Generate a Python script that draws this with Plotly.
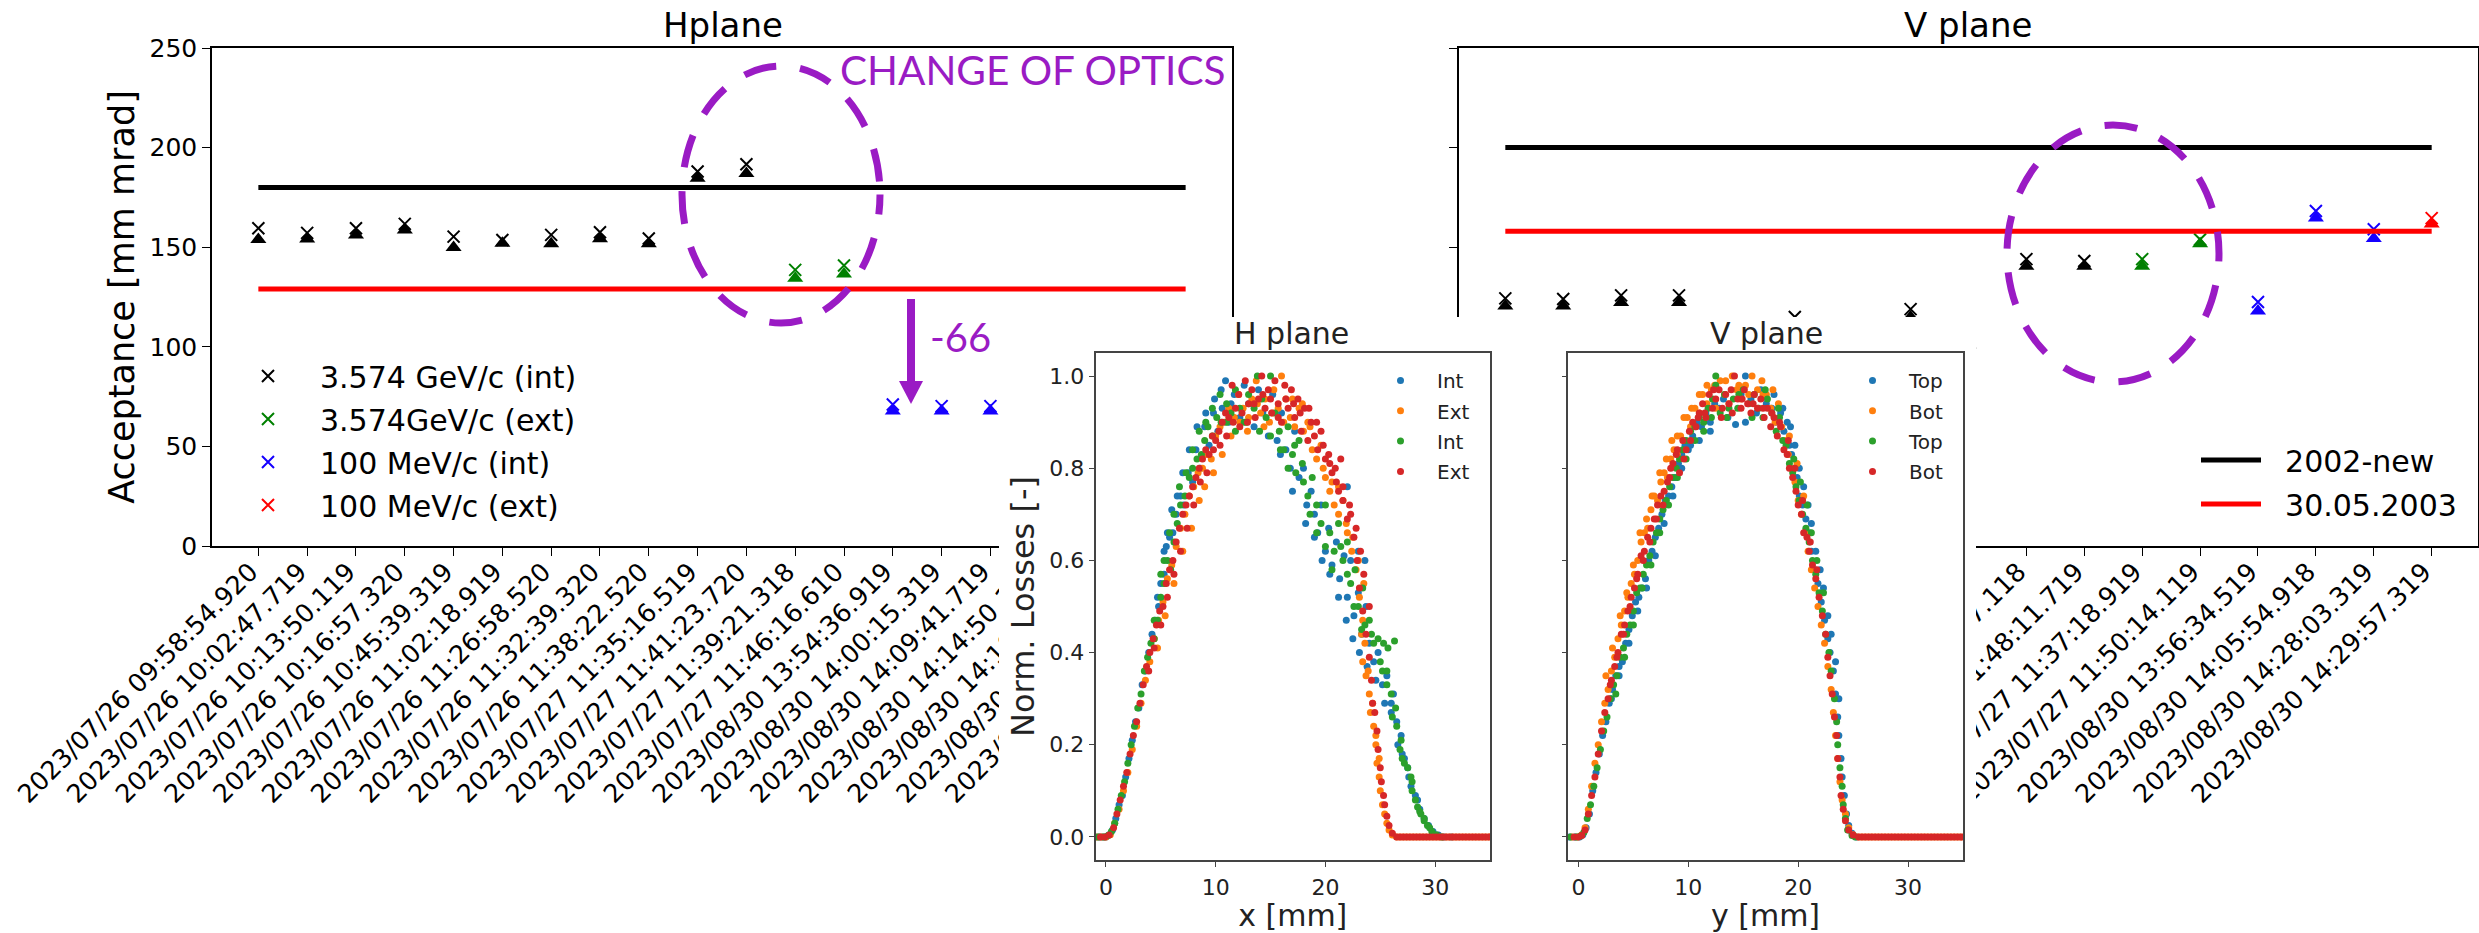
import plotly.graph_objects as go

W, H = 2479, 933
PURPLE = "#9a1bc4"
FONT = "DejaVu Sans"

# ---------- main panels: x categories ----------
H_LABELS = ["2023/07/26 09:58:54.920", "2023/07/26 10:02:47.719", "2023/07/26 10:13:50.119",
            "2023/07/26 10:16:57.320", "2023/07/26 10:45:39.319", "2023/07/26 11:02:18.919",
            "2023/07/26 11:26:58.520", "2023/07/26 11:32:39.320", "2023/07/26 11:38:22.520",
            "2023/07/27 11:35:16.519", "2023/07/27 11:41:23.720", "2023/07/27 11:39:21.318",
            "2023/07/27 11:46:16.610", "2023/08/30 13:54:36.919", "2023/08/30 14:00:15.319",
            "2023/08/30 14:09:41.719", "2023/08/30 14:14:50.119", "2023/08/30 14:19:02.919",
            "2023/08/30 14:22:11.520", "2023/08/30 14:26:37.719"]
V_LABELS = ["2023/07/26 10:05:12.519", "2023/07/26 10:21:33.118", "2023/07/26 10:49:05.720",
            "2023/07/26 11:06:44.319", "2023/07/26 11:20:17.919", "2023/07/26 11:29:51.120",
            "2023/07/26 11:35:26.719", "2023/07/26 11:43:08.320", "2023/07/27 11:30:42.519",
            "2023/07/27 11:44:37.118", "2023/07/27 11:48:11.719", "2023/07/27 11:37:18.919",
            "2023/07/27 11:50:14.119", "2023/08/30 13:56:34.519", "2023/08/30 14:05:54.918",
            "2023/08/30 14:28:03.319", "2023/08/30 14:29:57.319"]

# ---------- main panels: acceptance values (x marks, and the triangle below each) ----------
H_GEV_INT_IDX = [0, 1, 2, 3, 4, 5, 6, 7, 8, 9, 10]
H_GEV_INT_X = [159.5, 157.2, 159.5, 161.7, 155.3, 153.6, 156.2, 157.5, 154.4, 188.0, 191.6]
H_GEV_INT_T = [153.9, 154.1, 156.1, 158.6, 149.9, 152.0, 151.7, 154.2, 151.7, 184.6, 187.0]
H_GEV_EXT_IDX = [11, 12]
H_GEV_EXT_X = [138.6, 140.8]
H_GEV_EXT_T = [134.4, 136.6]
H_MEV_INT_IDX = [13, 14, 15, 16, 17]
H_MEV_INT_X = [71.0, 70.2, 70.2, 70.0, 70.0]
H_MEV_INT_T = [67.8, 67.8, 67.8, 67.5, 67.5]
H_MEV_EXT_IDX = [18, 19]
H_MEV_EXT_X = [70.0, 70.0]
H_MEV_EXT_T = [67.5, 67.5]

V_GEV_INT_IDX = [0, 1, 2, 3, 4, 5, 6, 7, 8, 9, 10]
V_GEV_INT_X = [124.3, 124.0, 125.8, 125.8, 105.0, 115.0, 105.0, 118.9, 105.0, 144.0, 143.1]
V_GEV_INT_T = [120.5, 120.5, 122.2, 122.2, 101.0, 111.0, 101.0, 115.0, 101.0, 140.4, 140.4]
V_GEV_EXT_IDX = [11, 12]
V_GEV_EXT_X = [144.0, 153.9]
V_GEV_EXT_T = [140.4, 151.7]
V_MEV_INT_IDX = [13, 14, 15]
V_MEV_INT_X = [122.5, 168.2, 159.0]
V_MEV_INT_T = [118.0, 164.6, 154.4]
V_MEV_EXT_IDX = [16]
V_MEV_EXT_X = [164.6]
V_MEV_EXT_T = [161.7]

H_REF_2002 = [180, 180]
H_REF_2003 = [129, 129]
V_REF_2002 = [200, 200]
V_REF_2003 = [158, 158]

# ---------- inset panels: (position, normalised losses) ----------
H_INT_A = [(-.9,0),(-.6,0),(-.3,0),(0,0),(.3,.005),(.6,.015),(.9,.04),(1.2,.07),(1.5,.09),(1.8,.13),(2.1,.17),(2.4,.21),(2.7,.25),(3,.28),(3.3,.33),(3.6,.36),(3.9,.4),(4.2,.44),(4.5,.47),(4.8,.5),(5,.55),(5.3,.57),(5.5,.63),(5.8,.65),(6.1,.66),(6.4,.7),(6.8,.74),(7.1,.72),(7.5,.79),(7.9,.77),(8.2,.84),(8.6,.8),(9,.89),(9.4,.85),(9.8,.92),(10.2,.88),(10.6,.93),(10.9,.99),(11.2,.9),(11.7,.96),(12.2,.91),(12.6,.98),(13,.94),(13.5,.89),(13.9,.97),(14.3,.92),(14.8,.87),(15.2,.96),(15.6,.86),(16,.92),(16.4,.84),(16.8,.8),(17.2,.88),(17.6,.78),(18,.8),(18.3,.72),(18.7,.75),(19,.7),(19.3,.66),(19.6,.72),(20,.62),(20.3,.67),(20.6,.59),(21,.64),(21.3,.56),(21.7,.61),(22,.52),(22.3,.6),(22.6,.48),(23,.53),(23.3,.44),(23.7,.5),(24,.42),(24.4,.38),(24.8,.4),(25.2,.33),(25.6,.35),(26,.29),(26.2,.31),(26.5,.25),(26.9,.22),(27.2,.17),(27.5,.15),(27.8,.11),(28.2,.09),(28.6,.06),(29,.04),(29.4,.025),(29.8,.012),(30.3,.004),(30.8,0),(31.5,0),
           (4.7,.52),(5.3,.62),(5.6,.66),(6,.71),(6.5,.74),(7,.79),(7.6,.84),(8.3,.89),(9.1,.92),(9.9,.95),(10.5,.97),(11.4,.94),(15.9,.83),(17,.75),(18.2,.68),(19,.65),(19.7,.6),(20.4,.57),(21.2,.52),(21.9,.47),(22.5,.43),(23.1,.4),(23.8,.37),(24.6,.34),(25.4,.29),(26,.27),(26.6,.2),(27,.18),(27.6,.13),(28.4,.08),(22,.76),(23,.62),(23.6,.6)]
H_EXT_A = [(-.8,0),(-.4,0),(0,0),(.4,.005),(.8,.03),(1.2,.06),(1.6,.1),(2,.14),(2.4,.19),(2.8,.24),(3.2,.29),(3.6,.34),(4,.38),(4.4,.43),(4.8,.47),(5.2,.51),(5.6,.56),(6,.59),(6.4,.63),(6.8,.67),(7.2,.7),(7.6,.74),(8,.76),(8.4,.79),(8.8,.8),(9.2,.83),(9.6,.82),(10,.87),(10.4,.89),(10.8,.9),(11.2,.93),(11.7,.91),(12.1,.96),(12.5,.93),(12.9,.88),(13.3,.95),(13.7,.99),(14.1,.92),(14.5,.95),(14.9,.9),(15.3,.97),(15.7,.93),(16,1.0),(16.4,.95),(16.8,.91),(17.2,.89),(17.6,.93),(18,.88),(18.4,.9),(18.8,.84),(19.2,.82),(19.6,.85),(20,.78),(20.4,.75),(20.8,.72),(21.2,.7),(21.6,.73),(22,.66),(22.4,.62),(22.8,.58),(23.1,.52),(23.4,.47),(23.6,.42),(23.4,.38),(23.7,.35),(24,.31),(24.1,.27),(24.4,.24),(24.6,.2),(24.7,.16),(24.9,.13),(25,.1),(25.2,.07),(25.4,.05),(25.6,.03),(25.8,.015),(26.1,.004),(26.5,0),
           (4.7,.41),(5.4,.48),(6.2,.55),(7,.62),(7.8,.67),(8.5,.73),(9,.76),(9.8,.79),(10.6,.83),(11.4,.87),(12.2,.9),(13,.91),(13.8,.94),(14.4,.89),(15.2,.92),(16.2,.9),(17,.95),(17.9,.94),(18.6,.89),(19.8,.8),(20.6,.77),(21.2,.76),(21.9,.68),(22.5,.65),(23,.6),(23.5,.55),(23.3,.44),(23.9,.36),(24.3,.29),(24.6,.22),(24.9,.17)]
H_INT_B = [(-.7,0),(-.2,0),(.2,.003),(.5,.012),(.8,.03),(1.1,.06),(1.4,.09),(1.7,.12),(2,.16),(2.3,.2),(2.6,.24),(2.9,.28),(3.2,.31),(3.5,.36),(3.8,.39),(4.1,.42),(4.4,.43),(4.7,.47),(5,.52),(5.3,.55),(5.6,.6),(5.9,.58),(6.2,.64),(6.5,.68),(6.8,.72),(7.2,.74),(7.6,.78),(7.9,.8),(8.3,.82),(8.7,.83),(9,.86),(9.3,.89),(9.7,.87),(10.1,.91),(10.5,.9),(11,.94),(11.4,.92),(11.8,.97),(12.2,.93),(12.6,.9),(13,.96),(13.5,.93),(13.8,1.0),(14.2,.95),(14.6,.91),(15,1.0),(15.4,.92),(15.8,.88),(16.2,.84),(16.6,.89),(17,.83),(17.3,.79),(17.6,.86),(18,.77),(18.4,.74),(18.8,.78),(19.2,.72),(19.6,.68),(20,.72),(20.4,.66),(20.8,.62),(21.2,.68),(21.6,.6),(22,.64),(22.3,.55),(22.7,.58),(23,.5),(23.4,.54),(23.6,.46),(24,.47),(24.4,.42),(24.8,.43),(25.3,.42),(25.7,.41),(26.3,.425),(25.2,.36),(25.6,.33),(26,.31),(26.4,.28),(26.5,.24),(26.9,.21),(27,.17),(27.5,.15),(27.8,.13),(27.9,.1),(28.2,.08),(28.4,.065),(28.7,.05),(29,.035),(29.3,.025),(29.7,.012),(30.1,.005),(30.6,0),
           (4.4,.47),(5,.57),(5.3,.6),(5.8,.66),(6.2,.7),(6.7,.76),(7.3,.79),(7.9,.84),(8.5,.88),(9.1,.9),(9.7,.93),(10.4,.96),(11,.9),(11.8,.88),(12.8,.9),(14,.88),(15,.87),(15.9,.84),(16.6,.8),(17.2,.85),(17.9,.81),(18.6,.7),(19.2,.66),(20,.63),(20.6,.58),(21.4,.63),(22,.57),(22.6,.5),(23.3,.45),(24.2,.44),(25,.38),(25.6,.36),(26.1,.26),(26.8,.19),(27.2,.16),(27.9,.12),(28.6,.055),(29,.04),(29.5,.02)]
H_EXT_B = [(-.5,0),(-.1,0),(.3,.004),(.7,.02),(1,.05),(1.3,.08),(1.6,.11),(1.9,.14),(2.2,.18),(2.5,.22),(2.8,.25),(3.1,.29),(3.4,.33),(3.7,.37),(4,.4),(4.3,.43),(4.6,.46),(4.9,.49),(5.2,.5),(5.5,.55),(5.8,.58),(6.1,.6),(6.4,.64),(6.7,.67),(7,.7),(7.3,.72),(7.6,.74),(7.9,.76),(8.2,.78),(8.5,.8),(8.8,.82),(9.1,.84),(9.4,.83),(9.7,.87),(10,.86),(10.3,.88),(10.6,.9),(10.9,.92),(11.2,.91),(11.5,.98),(11.8,.93),(12.1,.96),(12.4,.92),(12.7,.99),(13,.94),(13.3,.97),(13.6,.91),(13.9,.95),(14.2,1.0),(14.5,.93),(14.8,.97),(15.1,.92),(15.4,.99),(15.7,.94),(16,.9),(16.3,.98),(16.6,.93),(16.9,.97),(17.2,.91),(17.5,.95),(17.8,.88),(18.1,.93),(18.4,.86),(18.7,.9),(19,.87),(19.3,.84),(19.6,.88),(20,.82),(20.3,.83),(20.6,.79),(20.9,.8),(21.4,.82),(21.2,.75),(21.6,.73),(22,.69),(22.3,.7),(22.6,.65),(22.9,.6),(23.1,.54),(23.4,.49),(23.7,.44),(24,.39),(24.2,.34),(24.3,.29),(24.5,.27),(24.7,.23),(24.8,.19),(25,.15),(25.1,.12),(25.3,.09),(25.4,.07),(25.6,.045),(25.8,.025),(26.1,.008),(26.5,0),
           (3.9,.36),(4.4,.41),(5,.46),(5.6,.52),(6.2,.57),(6.8,.62),(7.4,.67),(8,.72),(8.6,.77),(9.2,.79),(9.8,.84),(10.4,.85),(11,.87),(11.6,.9),(12.2,.89),(12.9,.9),(13.5,.94),(14.3,.96),(15,.95),(15.7,.91),(16.4,.95),(17.1,.94),(17.7,.92),(18.5,.93),(19.2,.9),(19.8,.85),(20.4,.81),(21,.77),(21.6,.76),(22.2,.72),(22.8,.67),(23.2,.62),(23.5,.57),(24,.5)]
H_TAIL_X = [26.8,27.1,27.4,27.7,28,28.3,28.6,28.9,29.2,29.5,29.8,30.1,30.4,30.7,31,31.3,31.6,31.9,32.2,32.5,32.8,33.1,33.4,33.7,34,34.3,34.6,34.9,35.2]

V_TOP_A = [(-.8,0),(-.3,0),(.1,0),(.4,.005),(.7,.02),(1,.05),(1.3,.1),(1.6,.14),(1.9,.18),(2.2,.22),(2.5,.25),(2.8,.29),(3.1,.32),(3.4,.35),(3.7,.37),(4,.38),(4.3,.42),(4.6,.45),(4.9,.48),(5.2,.51),(5.5,.52),(5.8,.54),(6.1,.56),(6.4,.6),(6.7,.62),(7,.65),(7.3,.67),(7.6,.7),(7.9,.73),(8.2,.74),(8.5,.76),(8.8,.78),(9.1,.81),(9.4,.83),(9.7,.85),(10,.84),(10.4,.87),(10.8,.9),(11.2,.89),(11.6,.92),(12,.9),(12.4,.94),(12.8,.93),(13.2,.95),(13.6,.91),(14.3,.895),(14.8,.96),(15.2,.9),(15.2,1.0),(15.7,.95),(16.2,.92),(16.6,.97),(17.1,.94),(17.6,.93),(18,.9),(18.4,.92),(18.7,.88),(19,.9),(19.2,.85),(19.4,.83),(19.6,.8),(19.9,.78),(20.1,.74),(20.4,.72),(20.7,.69),(21,.66),(21.2,.62),(21.5,.58),(21.8,.55),(22.1,.51),(22.4,.47),(22.7,.43),(22.9,.4),(23.2,.36),(23.4,.31),(23.6,.26),(23.7,.22),(23.9,.17),(24,.13),(24.2,.09),(24.4,.05),(24.6,.025),(24.9,.008),(25.3,0),
           (17.8,.96),(18.6,.93),(19.3,.89),(19.7,.85),(20.1,.8),(20.5,.76),(20.9,.72),(21.2,.68),(21.6,.62),(22,.58),(22.3,.54),(22.7,.48),(23,.44),(23.4,.38),(23.7,.3),(3,.3),(3.7,.35),(4.6,.42),(5.4,.49),(6.2,.54),(7,.61),(7.8,.68),(8.6,.74),(9.4,.8),(10.2,.85),(11,.86),(12,.88)]
V_BOT_A = [(-.6,0),(-.1,0),(.3,.005),(.6,.02),(.9,.06),(1.2,.11),(1.5,.16),(1.8,.2),(2.1,.25),(2.4,.29),(2.7,.32),(3,.36),(3.3,.39),(3.6,.43),(3.9,.46),(4.2,.49),(4.5,.52),(4.8,.55),(5.1,.57),(5.4,.6),(5.7,.64),(6,.66),(6.3,.67),(6.6,.71),(6.9,.74),(7.2,.73),(7.5,.77),(7.8,.79),(8.1,.78),(8.4,.82),(8.7,.84),(9,.83),(9.3,.87),(9.6,.86),(9.9,.91),(10.2,.89),(10.6,.93),(11,.92),(11.3,.96),(11.7,.94),(12.1,.97),(12.5,.93),(12.9,.99),(13.3,.96),(13.7,.94),(14,1.0),(14.4,.97),(14.8,.95),(15.2,.98),(15.8,1.0),(16.3,.97),(16.7,.99),(17.1,.96),(17.5,.93),(17.9,.9),(18.2,.94),(18.5,.89),(18.8,.86),(19.1,.83),(19.4,.8),(19.7,.77),(20,.73),(20.3,.7),(20.6,.66),(20.9,.62),(21.2,.58),(21.5,.54),(21.8,.5),(22.1,.46),(22.4,.42),(22.7,.37),(23,.32),(23.2,.27),(23.4,.22),(23.6,.17),(23.8,.12),(24,.08),(24.3,.05),(24.6,.02),(25,.005),(25.5,0),
           (2.5,.35),(3.1,.41),(3.8,.48),(4.4,.53),(5,.59),(5.6,.66),(6.2,.69),(6.7,.74),(7.4,.79),(8,.82),(8.5,.86),(9,.87),(9.6,.91),(10.3,.93),(11,.96),(11.7,.98),(12.4,.98),(13.4,.99),(14.6,.98),(15.5,.96),(16.8,.96),(17.7,.97),(19.2,.87),(19.9,.81),(20.5,.74)]
V_TOP_B = [(-.7,0),(-.2,0),(.2,.002),(.5,.01),(.8,.04),(1.1,.07),(1.4,.11),(1.7,.15),(2,.19),(2.3,.23),(2.6,.26),(2.9,.3),(3.2,.33),(3.5,.35),(3.8,.39),(4.1,.41),(4.4,.44),(4.7,.46),(5,.49),(5.3,.53),(5.6,.54),(5.9,.57),(6.2,.59),(6.5,.61),(6.8,.64),(7.1,.66),(7.4,.69),(7.7,.71),(8,.73),(8.3,.76),(8.6,.78),(8.9,.8),(9.2,.82),(9.5,.84),(9.8,.86),(10.2,.88),(10.6,.89),(11,.91),(11.4,.9),(11.8,.93),(12.2,.95),(12.5,1.0),(12.9,.92),(13.3,.96),(13.7,.93),(14.1,.95),(14.5,.93),(15,.97),(15.5,.94),(16,.96),(16.4,.93),(16.8,.91),(17.2,.95),(17.6,.92),(18,.88),(18.3,.91),(18.6,.86),(18.9,.85),(19.2,.81),(19.5,.79),(19.8,.76),(20.1,.73),(20.4,.7),(20.7,.67),(21,.64),(21.3,.6),(21.6,.57),(21.9,.53),(22.2,.49),(22.5,.44),(22.8,.4),(23,.36),(23.3,.3),(23.5,.25),(23.6,.2),(23.8,.15),(24,.11),(24.1,.07),(24.3,.04),(24.5,.015),(24.9,.003),(25.2,0),
           (3.4,.31),(4.2,.39),(5,.46),(5.8,.54),(6.6,.59),(7.4,.66),(8.2,.72),(9,.78),(9.8,.82),(10.6,.86),(11.4,.88),(12.1,.91),(12.5,.98),(13.5,.91),(14.6,.96),(15.8,.91),(17,.97),(18.2,.93),(19.6,.82),(20.2,.77),(20.8,.72),(21.2,.66),(21.7,.6),(22.3,.53)]
V_BOT_B = [(-.4,0),(0,0),(.3,.003),(.6,.015),(.9,.05),(1.2,.09),(1.5,.13),(1.8,.18),(2.1,.23),(2.4,.27),(2.7,.3),(3,.34),(3.3,.37),(3.6,.4),(3.9,.44),(4.2,.46),(4.5,.49),(4.8,.52),(5.1,.54),(5.4,.57),(5.7,.61),(6,.62),(6.3,.65),(6.6,.67),(6.9,.69),(7.2,.72),(7.5,.74),(7.8,.75),(8.1,.77),(8.3,.78),(8.6,.81),(8.9,.83),(9.2,.79),(9.5,.86),(9.8,.84),(10.1,.88),(10.4,.9),(10.7,.89),(11,.92),(11.3,.94),(11.6,.91),(11.9,.96),(12.2,.93),(12.5,.95),(12.8,.97),(13.1,.93),(13.4,.96),(13.7,.94),(14,.92),(14.2,1.0),(14.5,.95),(14.8,.93),(15.1,.97),(15.4,.94),(15.7,.92),(16,.96),(16.3,.93),(16.6,.95),(16.9,.91),(17.2,.93),(17.5,.89),(17.8,.91),(18.1,.87),(18.4,.89),(18.7,.84),(19,.83),(19.2,.8),(19.5,.78),(19.8,.75),(20,.72),(20.3,.7),(20.5,.66),(20.8,.65),(21,.62),(21.3,.59),(21.6,.56),(21.9,.52),(22.2,.48),(22.5,.44),(22.7,.39),(22.9,.35),(23.1,.31),(23.3,.26),(23.5,.22),(23.6,.17),(23.8,.13),(23.9,.09),(24.1,.06),(24.3,.035),(24.6,.015),(25,.004),(25.5,0),
           (2.9,.33),(3.5,.39),(4.1,.44),(4.7,.5),(5.3,.56),(5.9,.6),(6.5,.64),(7.1,.69),(7.7,.72),(8.4,.8),(9,.84),(9.6,.82),(10.2,.86),(10.9,.91),(11.5,.92),(12.3,.97),(13,.91),(13.9,.97),(14.9,.95),(15.9,.94),(16.8,.93),(17.6,.92),(18.3,.9),(19.1,.86),(19.7,.8),(20.4,.73),(21.1,.64),(21.7,.58)]
V_TAIL_X = [25.8,26.1,26.4,26.7,27,27.3,27.6,27.9,28.2,28.5,28.8,29.1,29.4,29.7,30,30.3,30.6,30.9,31.2,31.5,31.8,32.1,32.4,32.7,33,33.3,33.6,33.9,34.2,34.5,34.8,35.1]

PX = lambda x: x / W
PY = lambda y: 1 - y / H


def dom_x(a, b):
    return [PX(a), PX(b)]


def dom_y(top, bottom):
    return [PY(bottom), PY(top)]


fig = go.Figure()


def add_accept(idx, xvals, tvals, color, name, group, xa, ya, legend):
    fig.add_trace(go.Scatter(x=idx, y=tvals, mode="markers", xaxis=xa, yaxis=ya, showlegend=False,
                             hoverinfo="skip", marker=dict(symbol="triangle-up", size=14, color=color)))
    fig.add_trace(go.Scatter(x=idx, y=xvals, mode="markers", name=name, xaxis=xa, yaxis=ya,
                             legend=legend, legendgroup=group, showlegend=(legend is not None),
                             marker=dict(symbol="x-thin", size=12, color=color, line=dict(color=color, width=2))))


# panel H
for (idx, xv, tv, col, nm, grp) in [
    (H_GEV_INT_IDX, H_GEV_INT_X, H_GEV_INT_T, "black", "3.574 GeV/c (int)", "a"),
    (H_GEV_EXT_IDX, H_GEV_EXT_X, H_GEV_EXT_T, "green", "3.574GeV/c (ext)", "b"),
    (H_MEV_INT_IDX, H_MEV_INT_X, H_MEV_INT_T, "#1500ff", "100 MeV/c (int)", "c"),
    (H_MEV_EXT_IDX, H_MEV_EXT_X, H_MEV_EXT_T, "red", "100 MeV/c (ext)", "d"),
]:
    add_accept(idx, xv, tv, col, nm, grp, "x", "y", "legend")
for vals, col in [(H_REF_2002, "black"), (H_REF_2003, "red")]:
    fig.add_trace(go.Scatter(x=[0, len(H_LABELS) - 1], y=vals, mode="lines", xaxis="x", yaxis="y",
                             showlegend=False, line=dict(color=col, width=5)))

# panel V
for (idx, xv, tv, col) in [
    (V_GEV_INT_IDX, V_GEV_INT_X, V_GEV_INT_T, "black"),
    (V_GEV_EXT_IDX, V_GEV_EXT_X, V_GEV_EXT_T, "green"),
    (V_MEV_INT_IDX, V_MEV_INT_X, V_MEV_INT_T, "#1500ff"),
    (V_MEV_EXT_IDX, V_MEV_EXT_X, V_MEV_EXT_T, "red"),
]:
    fig.add_trace(go.Scatter(x=idx, y=tv, mode="markers", xaxis="x2", yaxis="y2", showlegend=False,
                             marker=dict(symbol="triangle-up", size=14, color=col)))
    fig.add_trace(go.Scatter(x=idx, y=xv, mode="markers", xaxis="x2", yaxis="y2", showlegend=False,
                             marker=dict(symbol="x-thin", size=12, color=col, line=dict(color=col, width=2))))
for vals, col, nm, grp in [(V_REF_2002, "black", "\u00a0\u00a02002-new", "e"),
                           (V_REF_2003, "red", "\u00a0\u00a030.05.2003", "f")]:
    fig.add_trace(go.Scatter(x=[0, len(V_LABELS) - 1], y=vals, mode="lines", name=nm, xaxis="x2", yaxis="y2",
                             legend="legend2", legendgroup=grp, line=dict(color=col, width=5)))

# white panel on which the two inset plots sit (hides what lies below them)
fig.add_trace(go.Scatter(x=[0, 1, 1, 0, 0], y=[0, 0, 1, 1, 0], mode="lines", fill="toself", fillcolor="white",
                         line=dict(color="white", width=0), xaxis="x3", yaxis="y3", showlegend=False,
                         hoverinfo="skip"))

TAB = ["#1f77b4", "#ff7f0e", "#2ca02c", "#d62728"]


def add_inset(series, names, tail, xa, ya, legend, prefix):
    for i, (pts, nm) in enumerate(zip(series, names)):
        xs = [p[0] for p in pts]
        ys = [p[1] for p in pts]
        if i in (1, 3):
            xs = xs + tail
            ys = ys + [0] * len(tail)
        fig.add_trace(go.Scatter(x=xs, y=ys, mode="markers", name=nm, xaxis=xa, yaxis=ya, legend=legend,
                                 legendgroup=f"{prefix}{i}", marker=dict(size=7, color=TAB[i])))


add_inset([H_INT_A, H_EXT_A, H_INT_B, H_EXT_B], ["Int", "Ext", "Int", "Ext"], H_TAIL_X, "x4", "y4", "legend3", "h")
add_inset([V_TOP_A, V_BOT_A, V_TOP_B, V_BOT_B], ["Top", "Bot", "Top", "Bot"], V_TAIL_X, "x5", "y5", "legend4", "v")

AX_MAIN = dict(showline=True, mirror=True, linecolor="black", linewidth=1.5, ticks="outside", ticklen=8,
               tickwidth=1.2, tickcolor="black", showgrid=False, zeroline=False)
AX_IN = dict(showline=True, mirror=True, linecolor="#444444", linewidth=1.5, ticks="outside", ticklen=5,
             tickwidth=1.2, tickcolor="#444444", showgrid=False, zeroline=False)
TICKF = dict(family=FONT, size=25.5, color="black")
TICKIN = dict(family=FONT, size=22, color="#222222")
IN_Y = [0, 0.2, 0.4, 0.6, 0.8, 1.0]
IN_X = [0, 10, 20, 30]
MAIN_Y = [0, 50, 100, 150, 200, 250]

layout = dict(
    width=W, height=H, margin=dict(l=0, r=0, t=0, b=0, autoexpand=False), paper_bgcolor="white", plot_bgcolor="white",
    font=dict(family=FONT, color="black"), hovermode=False,
    xaxis=dict(AX_MAIN, domain=dom_x(212, 1232), anchor="y", range=[-0.95, 19.95], tickvals=list(range(len(H_LABELS))),
               ticktext=H_LABELS, tickangle=-45, tickfont=TICKF, ticklabelstandoff=-9, ticklabelshift=-8),
    yaxis=dict(AX_MAIN, domain=dom_y(48, 546), anchor="x", range=[0, 250], tickvals=MAIN_Y, tickfont=dict(TICKF, size=25),
               title=dict(text="Acceptance [mm mrad]", font=dict(family=FONT, size=35, color="black"), standoff=4)),
    xaxis2=dict(AX_MAIN, domain=dom_x(1459, 2478), anchor="y2", range=[-0.8, 16.8], tickvals=list(range(len(V_LABELS))),
                ticktext=V_LABELS, tickangle=-45, tickfont=TICKF, ticklabelstandoff=-9, ticklabelshift=-8),
    yaxis2=dict(AX_MAIN, domain=dom_y(48, 546), anchor="x2", range=[0, 250], tickvals=MAIN_Y, showticklabels=False),
    xaxis3=dict(domain=dom_x(999, 1976), anchor="y3", range=[0, 1], visible=False, fixedrange=True),
    yaxis3=dict(domain=dom_y(317, 933), anchor="x3", range=[0, 1], visible=False, fixedrange=True),
    xaxis4=dict(AX_IN, domain=dom_x(1095.5, 1490), anchor="y4", range=[-0.95, 35], tickvals=IN_X, tickfont=TICKIN,
                ticklabelstandoff=2,
                title=dict(text="x [mm]", font=dict(family=FONT, size=30, color="#222222"), standoff=5)),
    yaxis4=dict(AX_IN, domain=dom_y(353, 860), anchor="x4", range=[-0.05, 1.05], tickvals=IN_Y, tickformat=".1f", tickfont=TICKIN,
                title=dict(text="Norm. Losses [-]", font=dict(family=FONT, size=32, color="#222222"), standoff=5)),
    xaxis5=dict(AX_IN, domain=dom_x(1568, 1963), anchor="y5", range=[-0.95, 35], tickvals=IN_X, tickfont=TICKIN,
                ticklabelstandoff=2,
                title=dict(text="y [mm]", font=dict(family=FONT, size=30, color="#222222"), standoff=5)),
    yaxis5=dict(AX_IN, domain=dom_y(353, 860), anchor="x5", range=[-0.05, 1.05], tickvals=IN_Y, showticklabels=False, ticklen=4),
    legend=dict(x=PX(216), y=PY(350), xanchor="left", yanchor="top", bgcolor="rgba(0,0,0,0)", itemwidth=94,
                tracegroupgap=1, font=dict(family=FONT, size=30, color="black")),
    legend2=dict(x=PX(2196), y=PY(434), xanchor="left", yanchor="top", bgcolor="rgba(0,0,0,0)", itemwidth=60,
                 tracegroupgap=2, font=dict(family=FONT, size=30, color="black")),
    legend3=dict(x=PX(1364), y=PY(361), xanchor="left", yanchor="top", bgcolor="rgba(0,0,0,0)", itemwidth=63,
                 tracegroupgap=1.3, font=dict(family=FONT, size=20, color="#222222")),
    legend4=dict(x=PX(1836), y=PY(361), xanchor="left", yanchor="top", bgcolor="rgba(0,0,0,0)", itemwidth=63,
                 tracegroupgap=1.3, font=dict(family=FONT, size=20, color="#222222")),
)


def ann(text, x, y, size, color="black", family=FONT, xanchor="center"):
    return dict(text=text, x=PX(x), y=PY(y), xref="paper", yref="paper", xanchor=xanchor, yanchor="middle",
                showarrow=False, font=dict(family=family, size=size, color=color))


layout["annotations"] = [
    ann("Hplane", 723, 25, 34),
    ann("V plane", 1968, 25, 34),
    ann("H plane", 1291, 333, 30, "#222222"),
    ann("V plane", 1766, 333, 30, "#222222"),
    ann("CHANGE OF OPTICS", 838, 70, 40.5, PURPLE, "Lato", "left"),
    ann("-66", 928, 337, 40, PURPLE, "Lato", "left"),
]


def dashes(first, dash=33, gap=24, n=13):
    return ",".join(f"{p}px" for p in [first, gap] + [dash, gap] * n)


layout["shapes"] = [
    dict(type="circle", xref="paper", yref="paper", x0=PX(682), x1=PX(880), y0=PY(323), y1=PY(66),
         line=dict(color=PURPLE, width=7, dash=dashes(20))),
    dict(type="circle", xref="paper", yref="paper", x0=PX(2007), x1=PX(2219), y0=PY(382), y1=PY(125),
         line=dict(color=PURPLE, width=7, dash=dashes(8))),
    dict(type="line", xref="paper", yref="paper", x0=PX(911), x1=PX(911), y0=PY(299), y1=PY(385),
         line=dict(color=PURPLE, width=8)),
    dict(type="path", xref="paper", yref="paper", fillcolor=PURPLE, line=dict(width=0),
         path=f"M {PX(899)} {PY(381)} L {PX(923)} {PY(381)} L {PX(911)} {PY(404)} Z"),
]

fig.update_layout(**layout)
fig.write_html("out.html", config=dict(displayModeBar=False),
               post_script="document.body.style.margin='0';document.body.style.overflow='hidden';")
